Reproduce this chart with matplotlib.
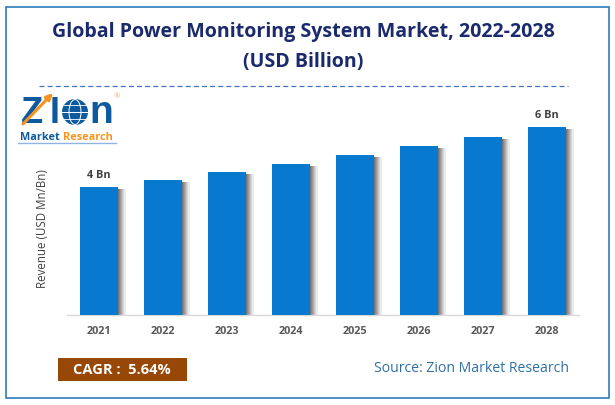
import matplotlib
matplotlib.use('Agg')
import matplotlib.pyplot as plt
from matplotlib.patches import Rectangle, Circle, Ellipse

plt.rcParams['font.family'] = ['Open Sans', 'DejaVu Sans']

years = ['2021', '2022', '2023', '2024', '2025', '2026', '2027', '2028']
revenue = [4.0, 4.22, 4.47, 4.72, 5.0, 5.28, 5.56, 5.86]
bar_labels = {0: '4 Bn', 7: '6 Bn'}

W, H = 615, 405
fig = plt.figure(figsize=(W / 100, H / 100), dpi=100)

# overlay in pixel coords for frame, logo and boxes
bg = fig.add_axes([0, 0, 1, 1])
bg.set_xlim(0, W)
bg.set_ylim(H, 0)
bg.axis('off')
bg.add_patch(Rectangle((5.5, 6.5), 603, 391.5, fill=False, ec='#2e7dbd', lw=1.2))
bg.plot([39, 568], [86, 86], color='#4472c4', lw=0.9, dashes=(4, 2.5))

bg.text(303, 32, 'Global Power Monitoring System Market, 2022-2028',
        ha='center', va='center', fontsize=14.15, fontweight='bold', color='#1a2a6c')
bg.text(303, 62, '(USD Billion)',
        ha='center', va='center', fontsize=14.15, fontweight='bold', color='#1a2a6c')

# logo
blue = '#0d5a9e'
orange = '#f7941d'
bg.text(21, 123, 'Z', fontsize=26, fontweight='bold', color=blue, va='baseline', ha='left',
        family='Liberation Sans')
bg.text(50, 123, 'I', fontsize=26, fontweight='bold', color=blue, va='baseline', ha='left',
        family='Liberation Sans')
bg.annotate('', xy=(53, 93), xytext=(23, 124),
            arrowprops=dict(arrowstyle='-|>', color=orange, lw=2.2, mutation_scale=9,
                            shrinkA=0, shrinkB=0))
bg.add_patch(Circle((75, 112), 13, fc=blue, ec='none'))
bg.add_patch(Ellipse((75, 112), 12, 25, fill=False, ec='white', lw=0.7))
bg.plot([62, 88], [112, 112], color='white', lw=0.7)
bg.plot([64, 86], [105, 105], color='white', lw=0.6)
bg.plot([64, 86], [119, 119], color='white', lw=0.6)
bg.text(89, 123, 'n', fontsize=28, fontweight='bold', color=blue, va='baseline', ha='left',
        family='Liberation Sans')
bg.text(114, 97, '®', fontsize=5.5, color='#f4b183', ha='left', va='center')
bg.text(20, 137, 'Market', fontsize=7.8, fontweight='bold', color=blue, va='center', ha='left')
bg.text(63, 137, 'Research', fontsize=7.8, fontweight='bold', color=orange, va='center', ha='left')
bg.plot([18, 116], [143, 143], color='#8db4e2', lw=1.0)

# CAGR box and source
bg.add_patch(Rectangle((58, 358), 129, 23, fc='#974706', ec='none'))
bg.text(122, 370, 'CAGR :  5.64%', color='white', fontsize=10.5, fontweight='bold',
        ha='center', va='center')
bg.text(471, 368, 'Source: Zion Market Research', color='#2e6ea6', fontsize=10.1,
        ha='center', va='center')

# chart
ax = fig.add_axes([67 / W, 1 - 315 / H, 512 / W, 240 / H])
ax.patch.set_alpha(0)
x = list(range(len(years)))
ax.set_xlim(-0.5, 7.5)
ax.set_ylim(0, 7.5)
width = 0.58

# soft shadow to the right of the bars
for i in range(7):
    off = (width + (i + 0.5) * 0.018) - width / 2
    ax.bar([p + off for p in x], [v - 0.06 for v in revenue], width=0.018,
           color='#444444', alpha=0.75 * (1 - i / 7), lw=0)
ax.bar(x, revenue, width=width, color='#0779cf', zorder=3)

for i, txt in bar_labels.items():
    ax.text(i, revenue[i] + 0.2, txt, ha='center', va='bottom', fontsize=7.8,
            fontweight='bold', color='#404040')

ax.set_xticks(x)
ax.set_xticklabels(years, fontsize=7.8, fontweight='bold', color='#595959')
ax.tick_params(axis='x', length=0, pad=8)
ax.set_yticks([])
for s in ['top', 'left', 'right']:
    ax.spines[s].set_visible(False)
ax.spines['bottom'].set_color('#d9d9d9')
ax.spines['bottom'].set_linewidth(1.0)
ax.set_zorder(2)

bg.text(42, 229, 'Revenue (USD Mn/Bn)', rotation=90, ha='center', va='center',
        fontsize=8.3, color='#404040')

fig.savefig('out.png', dpi=100)
